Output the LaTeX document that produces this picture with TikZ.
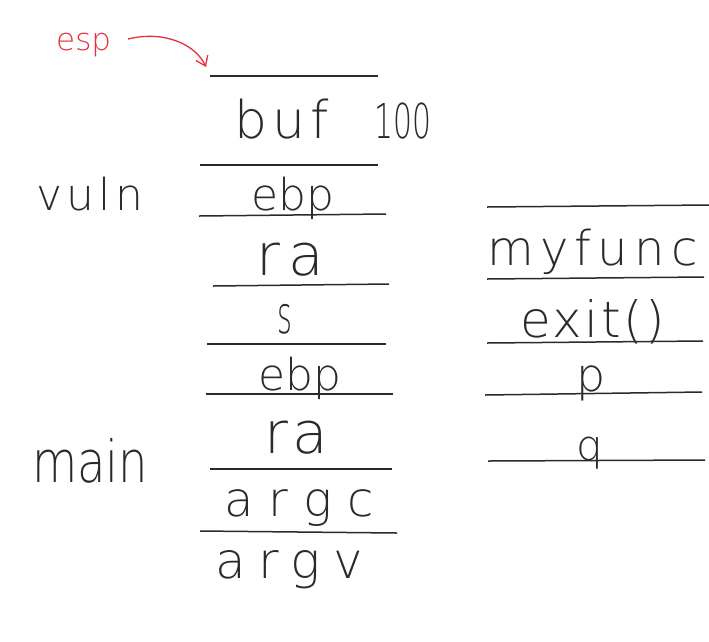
\documentclass[tikz,border=0pt]{standalone}
\usepackage{fontspec}
\usetikzlibrary{arrows.meta}
\newfontfamily\hand{DejaVu Sans ExtraLight}
\definecolor{ink}{HTML}{2A2A2A}
\definecolor{redink}{HTML}{E8303A}
\begin{document}
\begin{tikzpicture}[x=1pt,y=-1pt,
  sep/.style={draw=ink,line width=1.5pt},
  lbl/.style={anchor=base west,inner sep=0pt,text=ink},
  fs/.style 2 args={font=\hand\fontsize{#1}{#1}\selectfont\addfontfeature{LetterSpace=#2}},
]
\useasboundingbox (0,0) rectangle (709,641);
% left stack separators
\draw[sep] (210,76) -- (378,76);
\draw[sep] (200,165) -- (378,165);
\draw[sep] (199,216) -- (386,214);
\draw[sep] (213,286) -- (389,284);
\draw[sep] (207,344) -- (386,344);
\draw[sep] (206,394) -- (393,394);
\draw[sep] (210,469) -- (392,469);
\draw[sep] (200,531) -- (397,533);
% right stack separators
\draw[sep] (487,207) -- (709,205);
\draw[sep] (487,279) -- (704,277);
\draw[sep] (487,343) -- (703,341);
\draw[sep] (485,395) -- (702,392);
\draw[sep] (488,461) -- (705,460);
% labels
\node[lbl,fs={31}{0},text=redink] (esp) at (56,50) {esp};
\node[lbl,fs={52}{10}] (buf) at (234,138) {buf};
\node[lbl,fs={48}{0}] (hundred) at (374,138) {\scalebox{0.62}[1]{100}};
\node[lbl,fs={44}{10}] (vuln) at (36,210) {vuln};
\node[lbl,fs={44}{0}] (ebpa) at (251,210) {ebp};
\node[lbl,fs={58}{14}] (raa) at (256,275) {ra};
\node[lbl,fs={52}{0}] (s) at (277,333) {\scalebox{0.55}[1]{s}};
\node[lbl,fs={44}{0}] (ebpb) at (258,390) {ebp};
\node[lbl,fs={58}{8}] (rab) at (264,453) {ra};
\node[lbl,fs={58}{0}] (main) at (32,482) {\scalebox{0.8}[1]{main}};
\node[lbl,fs={48}{32}] (argc) at (224,516) {argc};
\node[lbl,fs={50}{25}] (argv) at (215,578) {argv};
\node[lbl,fs={48}{13}] (myfunc) at (487,265) {myfunc};
\node[lbl,fs={50}{5}] (exit) at (520,337) {exit()};
\node[lbl,fs={46}{0}] (p) at (576,391) {p};
\node[lbl,fs={42}{0}] (q) at (576,460) {q};
% esp arrow
\coordinate (espstart) at (128,39);
\coordinate (espend) at (206,67);
\draw[redink,line width=1.3pt,-{Straight Barb[length=9pt,width=13pt]}]
  (espstart) .. controls (165,30) and (196,45) .. (espend);
\end{tikzpicture}
\end{document}
